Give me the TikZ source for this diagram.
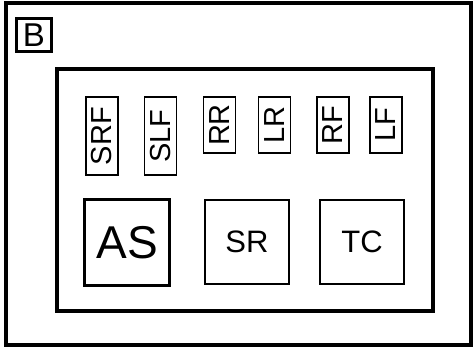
\documentclass[tikz,border=0pt]{standalone}
\usepackage{fontspec}
\setmainfont{Liberation Sans}
\newcommand{\fs}[1]{\fontsize{#1}{#1}\selectfont}
\begin{document}
\begin{tikzpicture}[x=1pt,y=-1pt,
  frame/.style={draw, line width=4.2pt, inner sep=0pt, outer sep=0pt},
  tag/.style={draw, line width=1.1pt, inner sep=0pt, minimum width=32pt, font=\fs{29}},
  unit/.style={draw, line width=1.1pt, inner sep=0pt, minimum width=84pt, minimum height=84pt, font=\fs{31}}]
\useasboundingbox (0,0) rectangle (474,348);
\node[frame, minimum width=465pt, minimum height=342pt] (outer) at (238.5,173.75) {};
\node[draw, line width=3pt, inner sep=0pt, minimum width=35pt, minimum height=33pt, font=\fs{33}] (B) at (34,35) {B};
\node[frame, minimum width=375.7pt, minimum height=242.3pt] (inner) at (245.15,189.85) {};
\node[tag, minimum height=78pt] (SRF) at (102,136) {\rotatebox{90}{SRF}};
\node[tag, minimum height=78pt] (SLF) at (160.5,136) {\rotatebox{90}{SLF}};
\node[tag, minimum height=56pt] (RR) at (219.5,125) {\rotatebox{90}{RR}};
\node[tag, minimum height=56pt] (LR) at (274.5,125) {\rotatebox{90}{LR}};
\node[tag, minimum height=56pt] (RF) at (333,125) {\rotatebox{90}{RF}};
\node[tag, minimum height=56pt] (LF) at (386,125) {\rotatebox{90}{LF}};
\node[draw, line width=3.5pt, inner sep=0pt, minimum width=85pt, minimum height=86pt, font=\fs{46}] (AS) at (127,242.5) {AS};
\node[unit] (SR) at (247,242) {SR};
\node[unit] (TC) at (362,242) {TC};
\end{tikzpicture}
\end{document}
